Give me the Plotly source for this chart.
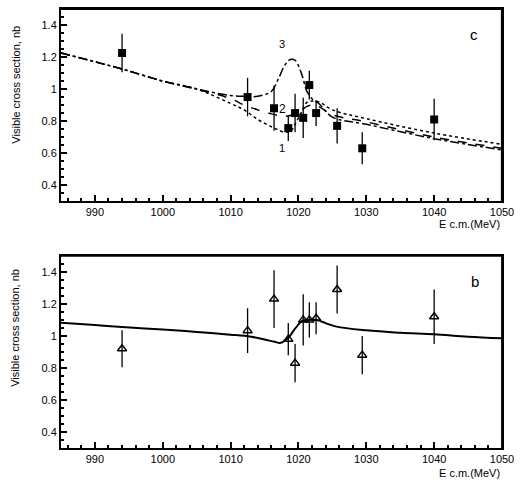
import plotly.graph_objects as go

# ---- measured points, panel c (filled squares) ----
energy = [994.0, 1012.5, 1016.4, 1018.5, 1019.5, 1020.7, 1021.6, 1022.6, 1025.7, 1029.4, 1040.0]
sigma_c = [1.225, 0.95, 0.88, 0.756, 0.85, 0.82, 1.025, 0.85, 0.77, 0.63, 0.81]
err_c = [0.12, 0.12, 0.14, 0.08, 0.12, 0.125, 0.09, 0.08, 0.11, 0.10, 0.13]

# ---- measured points, panel b (open triangles) ----
sigma_b = [0.92, 1.033, 1.23, 0.98, 0.83, 1.10, 1.10, 1.11, 1.29, 0.88, 1.12]
err_b = [0.115, 0.14, 0.18, 0.10, 0.12, 0.16, 0.11, 0.10, 0.15, 0.12, 0.17]

# ---- model curves, panel c ----
e_model = [985, 990, 994, 1000, 1005, 1010, 1012, 1014, 1016, 1017, 1018,
           1018.8, 1019.5, 1020.5, 1021.2, 1022, 1023, 1025, 1030, 1040, 1050]
curve1 = [1.225, 1.17, 1.125, 1.05, 1.0, 0.91, 0.87, 0.81, 0.765, 0.745, 0.73,
          0.735, 0.78, 0.86, 0.915, 0.925, 0.92, 0.87, 0.815, 0.725, 0.655]
curve2 = [1.225, 1.17, 1.125, 1.05, 1.0, 0.94, 0.90, 0.87, 0.845, 0.835, 0.83,
          0.835, 0.85, 0.87, 0.89, 0.90, 0.89, 0.84, 0.795, 0.70, 0.63]
curve3 = [1.225, 1.17, 1.125, 1.05, 1.0, 0.96, 0.955, 0.955, 0.985, 1.06, 1.15,
          1.185, 1.18, 1.09, 0.99, 0.94, 0.91, 0.825, 0.78, 0.69, 0.62]

# ---- model curve, panel b ----
e_fit_b = [985, 990, 994, 1000, 1005, 1010, 1013, 1015, 1016.5, 1017.4, 1018.5,
           1019.5, 1020.6, 1021.6, 1022.7, 1024, 1025.6, 1030, 1035, 1040, 1045, 1050]
fit_b = [1.082, 1.068, 1.056, 1.04, 1.025, 1.008, 0.995, 0.978, 0.963, 0.957, 0.988,
         1.045, 1.095, 1.10, 1.10, 1.08, 1.058, 1.035, 1.02, 1.01, 0.995, 0.985]

INK = "black"
FONT = "Liberation Sans"
X_RANGE = [985, 1050]
Y_RANGE = [0.3, 1.5]

fig = go.Figure()

# top and right edges of each panel's box, following the axis ranges
for xa, ya, w in [("x", "y", 2.2), ("x2", "y2", 1.8)]:
    fig.add_trace(go.Scatter(x=[X_RANGE[0], X_RANGE[1], X_RANGE[1]],
                             y=[Y_RANGE[1], Y_RANGE[1], Y_RANGE[0]],
                             mode="lines", line=dict(color=INK, width=w),
                             cliponaxis=False, xaxis=xa, yaxis=ya,
                             showlegend=False, hoverinfo="skip"))

# panel c: model curves
for yv, dash in [(curve1, "dot"), (curve2, "dash"), (curve3, "dashdot")]:
    fig.add_trace(go.Scatter(x=e_model, y=yv, mode="lines", line_shape="spline",
                             line=dict(color=INK, width=1.5, dash=dash),
                             xaxis="x", yaxis="y", showlegend=False, hoverinfo="skip"))

fig.add_trace(go.Scatter(x=energy, y=sigma_c, mode="markers",
                         marker=dict(symbol="square", size=8, color=INK),
                         error_y=dict(type="data", array=err_c, width=0, thickness=1.3, color=INK),
                         xaxis="x", yaxis="y", showlegend=False))

# panel b: model curve and points
fig.add_trace(go.Scatter(x=e_fit_b, y=fit_b, mode="lines", line_shape="spline",
                         line=dict(color=INK, width=2),
                         xaxis="x2", yaxis="y2", showlegend=False, hoverinfo="skip"))
fig.add_trace(go.Scatter(x=energy, y=sigma_b, mode="markers",
                         marker=dict(symbol="triangle-up-open", size=8, color=INK,
                                     line=dict(width=1.5, color=INK)),
                         error_y=dict(type="data", array=err_b, width=0, thickness=1.3, color=INK),
                         xaxis="x2", yaxis="y2", showlegend=False))

xaxis_style = dict(range=X_RANGE, tickmode="linear", tick0=990, dtick=10,
                   ticks="inside", ticklen=6, tickwidth=1.5, tickcolor=INK,
                   showline=True, linecolor=INK, linewidth=2, mirror=True,
                   showgrid=False, zeroline=False,
                   minor=dict(ticks="inside", ticklen=3, dtick=2, tickcolor=INK),
                   tickfont=dict(family=FONT, size=11, color=INK))
yaxis_style = dict(range=Y_RANGE, tickmode="linear", tick0=0.4, dtick=0.2,
                   ticks="inside", ticklen=6, tickwidth=1.5, tickcolor=INK,
                   showline=True, linecolor=INK, linewidth=2, mirror=True,
                   showgrid=False, zeroline=False,
                   minor=dict(ticks="inside", ticklen=3, dtick=0.05, tickcolor=INK),
                   tickfont=dict(family=FONT, size=11, color=INK))

top_lo = 1 - 193 / 441
bot_hi = 193 / 441

fig.update_layout(
    width=528, height=483,
    margin=dict(l=61, r=26, t=7, b=35),
    paper_bgcolor="white", plot_bgcolor="white",
    xaxis=dict(xaxis_style, domain=[0, 1], anchor="y"),
    yaxis=dict(yaxis_style, domain=[top_lo, 1], anchor="x"),
    xaxis2=dict(xaxis_style, domain=[0, 1], anchor="y2"),
    yaxis2=dict(yaxis_style, domain=[0, bot_hi], anchor="x2"),
)

ann_font = dict(family=FONT, size=11, color=INK)
annotations = [
    dict(text="Visible cross section, nb", xref="paper", yref="paper", x=-0.104, y=0.828,
         textangle=-90, showarrow=False, font=ann_font, xanchor="center", yanchor="middle"),
    dict(text="Visible cross section, nb", xref="paper", yref="paper", x=-0.104, y=0.274,
         textangle=-90, showarrow=False, font=ann_font, xanchor="center", yanchor="middle"),
    dict(text="E c.m.(MeV)", xref="paper", yref="paper", x=1.0, y=0.510,
         showarrow=False, font=ann_font, xanchor="right", yanchor="middle"),
    dict(text="E c.m.(MeV)", xref="paper", yref="paper", x=1.0, y=-0.056,
         showarrow=False, font=ann_font, xanchor="right", yanchor="middle"),
    dict(text="3", x=1017.6, y=1.28, xref="x", yref="y", showarrow=False, font=ann_font),
    dict(text="2", x=1017.7, y=0.875, xref="x", yref="y", showarrow=False,
         font=dict(family=FONT, size=12, color=INK)),
    dict(text="1", x=1017.5, y=0.63, xref="x", yref="y", showarrow=False, font=ann_font),
    dict(text="c", x=1045.8, y=1.34, xref="x", yref="y", showarrow=False,
         font=dict(family=FONT, size=15, color=INK)),
    dict(text="b", x=1046, y=1.34, xref="x2", yref="y2", showarrow=False,
         font=dict(family=FONT, size=15, color=INK)),
]
fig.update_layout(annotations=annotations)

fig.write_html("out.html")
